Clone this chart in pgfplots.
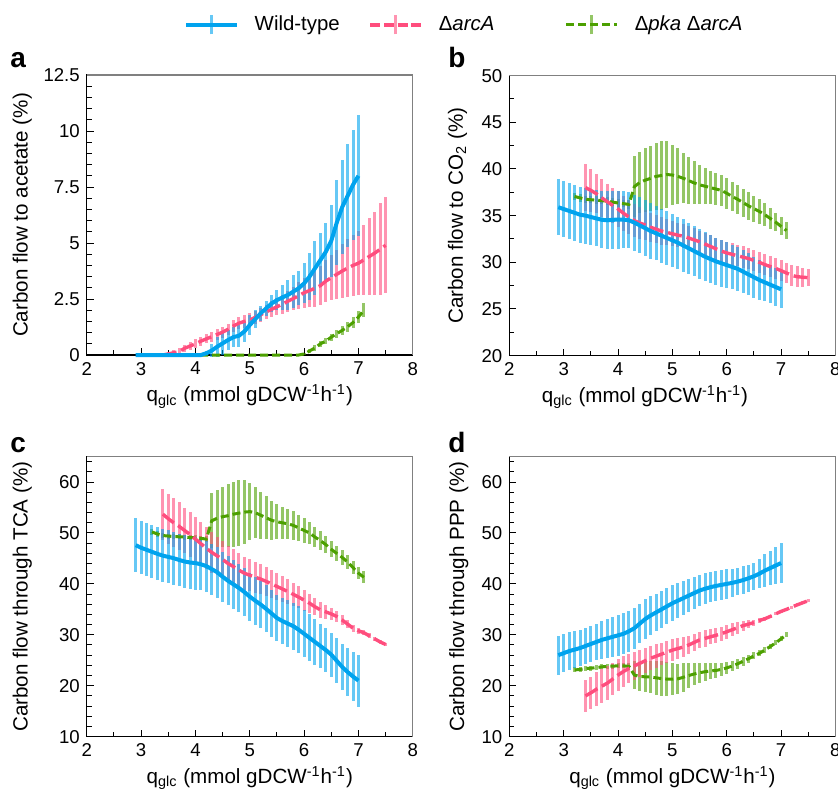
\documentclass[border=0pt]{standalone}
\usepackage{fontspec}
\setmainfont{Liberation Sans}
\usepackage{pgfplots}
\usepackage{pgfplotstable}
\pgfplotsset{compat=1.18}

\definecolor{wt}{RGB}{0,163,238}
\definecolor{arc}{RGB}{255,77,125}
\definecolor{pka}{RGB}{76,160,0}

% ---------- panel a: acetate ----------
\pgfplotstableread{
x y e
2.9 0 0
3.0 0 0
3.1 0 0
3.2 0 0
3.3 0 0
3.4 0 0
3.5 0 0
3.6 0 0
3.7 0 0
3.8 0 0
3.9 0 0
4.0 0 0
4.1 0 0
4.2 0.08 0.1
4.3 0.2 0.3
4.4 0.37 0.45
4.5 0.52 0.5
4.6 0.67 0.45
4.7 0.8 0.45
4.8 0.86 0.5
4.9 1.05 0.45
5.0 1.34 0.45
5.1 1.6 0.4
5.2 1.86 0.35
5.3 2.08 0.35
5.4 2.3 0.4
5.5 2.45 0.45
5.6 2.57 0.55
5.7 2.68 0.65
5.8 2.83 0.75
5.9 2.98 0.75
6.0 3.2 0.9
6.1 3.5 1.05
6.2 3.87 1.2
6.3 4.24 1.2
6.4 4.61 1.3
6.5 5.1 1.6
6.6 5.9 1.9
6.7 6.6 2.1
6.8 7.1 2.3
6.9 7.6 2.45
7.0 8.0 2.7
}\aWT
\pgfplotstableread{
x y e
3.4 0.0 0.05
3.5 0.05 0.1
3.6 0.1 0.12
3.7 0.15 0.15
3.8 0.3 0.15
3.9 0.4 0.18
4.0 0.5 0.2
4.1 0.62 0.2
4.2 0.72 0.2
4.3 0.82 0.22
4.4 0.92 0.25
4.5 1.02 0.25
4.6 1.15 0.25
4.7 1.3 0.27
4.8 1.42 0.28
4.9 1.5 0.3
5.0 1.56 0.3
5.1 1.68 0.3
5.2 1.8 0.32
5.3 1.92 0.33
5.4 2.04 0.35
5.5 2.15 0.38
5.6 2.27 0.42
5.7 2.4 0.47
5.8 2.52 0.53
5.9 2.65 0.6
6.0 2.78 0.68
6.1 2.88 0.75
6.2 2.98 0.82
6.3 3.1 0.88
6.4 3.3 0.95
6.5 3.45 1.0
6.6 3.6 1.1
6.7 3.75 1.2
6.8 3.88 1.28
6.9 4.0 1.35
7.0 4.1 1.42
7.1 4.25 1.55
7.2 4.4 1.7
7.3 4.55 1.85
7.4 4.72 2.05
7.5 4.9 2.15
}\aARC
\pgfplotstableread{
x y e
3.2 0 0
3.3 0 0
3.4 0 0
3.5 0 0
3.6 0 0
3.7 0 0
3.8 0 0
3.9 0 0
4.0 0 0
4.1 0 0
4.2 0 0
4.3 0 0
4.4 0 0
4.5 0 0
4.6 0 0
4.7 0 0
4.8 0 0
4.9 0 0
5.0 0 0
5.1 0 0
5.2 0 0
5.3 0 0
5.4 0 0
5.5 0 0
5.6 0 0
5.7 0 0
5.8 0 0
5.9 0 0
6.0 0.05 0.05
6.1 0.18 0.1
6.2 0.32 0.12
6.3 0.5 0.14
6.4 0.62 0.15
6.5 0.8 0.16
6.6 0.95 0.18
6.7 1.1 0.2
6.8 1.26 0.22
6.9 1.45 0.25
7.0 1.7 0.28
7.1 2.0 0.3
}\aPKA

% ---------- panel b: CO2 ----------
\pgfplotstableread{
x y e
2.9 35.9 3.0
3.0 35.7 3.0
3.1 35.5 3.0
3.2 35.3 3.0
3.3 35.1 3.0
3.4 35.0 3.0
3.5 34.85 3.0
3.6 34.7 3.0
3.7 34.55 3.05
3.8 34.5 3.1
3.9 34.55 3.1
4.0 34.57 3.1
4.1 34.57 3.05
4.2 34.5 3.0
4.3 34.25 3.0
4.4 33.95 3.0
4.5 33.65 3.0
4.6 33.35 2.95
4.7 33.1 2.9
4.8 32.85 2.9
4.9 32.6 2.9
5.0 32.35 2.85
5.1 32.1 2.8
5.2 31.8 2.8
5.3 31.5 2.75
5.4 31.2 2.7
5.5 30.9 2.7
5.6 30.6 2.65
5.7 30.35 2.6
5.8 30.1 2.55
5.9 29.9 2.5
6.0 29.7 2.5
6.1 29.5 2.4
6.2 29.3 2.35
6.3 29.0 2.3
6.4 28.7 2.25
6.5 28.4 2.2
6.6 28.1 2.1
6.7 27.85 2.05
6.8 27.6 2.0
6.9 27.35 2.0
7.0 27.1 2.0
}\bWT
\pgfplotstableread{
x y e
3.4 38.0 2.5
3.5 37.7 2.3
3.6 37.35 2.1
3.7 36.9 2.0
3.8 36.5 1.9
3.9 36.1 1.9
4.0 35.7 1.9
4.1 35.25 1.85
4.2 34.85 1.8
4.3 34.45 1.75
4.4 34.2 1.7
4.5 34.0 1.6
4.6 33.75 1.55
4.7 33.55 1.5
4.8 33.35 1.45
4.9 33.2 1.4
5.0 33.05 1.35
5.1 32.9 1.3
5.2 32.8 1.3
5.3 32.6 1.25
5.4 32.4 1.25
5.5 32.2 1.2
5.6 31.95 1.2
5.7 31.7 1.2
5.8 31.45 1.2
5.9 31.2 1.2
6.0 31.0 1.2
6.1 30.85 1.2
6.2 30.7 1.15
6.3 30.55 1.15
6.4 30.4 1.15
6.5 30.2 1.15
6.6 30.0 1.1
6.7 29.75 1.1
6.8 29.55 1.1
6.9 29.35 1.1
7.0 29.1 1.1
7.1 28.85 1.1
7.2 28.6 1.15
7.3 28.45 1.1
7.4 28.4 1.0
7.5 28.35 0.9
}\bARC
\pgfplotstableread{
x y e
3.2 37.05 0.4
3.3 36.9 0.4
3.4 36.75 0.4
3.5 36.7 0.4
3.6 36.65 0.4
3.7 36.6 0.4
3.8 36.55 0.4
3.9 36.45 0.4
4.0 36.35 0.4
4.1 36.28 0.4
4.2 36.2 0.5
4.3 38.1 3.3
4.4 38.55 3.3
4.5 38.8 3.4
4.6 39.0 3.5
4.7 39.2 3.55
4.8 39.3 3.65
4.9 39.4 3.55
5.0 39.35 3.2
5.1 39.2 3.0
5.2 39.0 2.7
5.3 38.75 2.5
5.4 38.5 2.3
5.5 38.3 2.1
5.6 38.15 1.9
5.7 38.0 1.8
5.8 37.85 1.7
5.9 37.7 1.65
6.0 37.4 1.65
6.1 37.05 1.6
6.2 36.75 1.55
6.3 36.4 1.5
6.4 36.05 1.5
6.5 35.75 1.4
6.6 35.45 1.3
6.7 35.1 1.2
6.8 34.7 1.1
6.9 34.3 1.0
7.0 33.85 0.95
7.1 33.4 0.9
}\bPKA

% ---------- panel c: TCA ----------
\pgfplotstableread{
x y e
2.9 47.6 5.3
3.0 47.1 5.2
3.1 46.7 5.2
3.2 46.3 5.2
3.3 45.9 5.2
3.4 45.55 5.2
3.5 45.3 5.2
3.6 45.05 5.2
3.7 44.7 5.2
3.8 44.4 5.2
3.9 44.2 5.2
4.0 44.1 5.2
4.1 43.85 5.1
4.2 43.5 5.0
4.3 42.9 5.0
4.4 42.3 5.0
4.5 41.4 4.9
4.6 40.6 4.8
4.7 39.9 4.8
4.8 39.2 4.8
4.9 38.4 4.75
5.0 37.5 4.7
5.1 36.7 4.7
5.2 35.95 4.6
5.3 35.1 4.6
5.4 34.2 4.6
5.5 33.3 4.6
5.6 32.7 4.6
5.7 32.2 4.6
5.8 31.7 4.6
5.9 31.0 4.6
6.0 30.2 4.6
6.1 29.4 4.6
6.2 28.6 4.5
6.3 27.8 4.4
6.4 27.0 4.3
6.5 26.1 4.3
6.6 24.9 4.4
6.7 23.7 4.5
6.8 22.7 4.7
6.9 21.8 4.9
7.0 21.0 5.1
}\cWT
\pgfplotstableread{
x y e
3.4 53.7 5.0
3.5 52.8 4.9
3.6 52.0 4.8
3.7 51.3 4.7
3.8 50.5 4.5
3.9 49.7 4.4
4.0 48.8 4.3
4.1 47.9 4.2
4.2 47.0 4.1
4.3 46.2 4.0
4.4 45.5 3.8
4.5 44.8 3.6
4.6 44.0 3.5
4.7 43.4 3.4
4.8 42.7 3.3
4.9 42.1 3.2
5.0 41.7 3.1
5.1 41.3 3.0
5.2 40.95 2.9
5.3 40.5 2.8
5.4 40.0 2.7
5.5 39.5 2.6
5.6 39.0 2.5
5.7 38.5 2.4
5.8 37.95 2.3
5.9 37.4 2.2
6.0 36.8 2.1
6.1 36.2 1.9
6.2 35.5 1.7
6.3 34.9 1.5
6.4 34.5 1.3
6.5 34.1 1.1
6.6 33.6 1.0
6.7 32.9 0.9
6.8 32.1 0.8
6.9 31.3 0.7
7.0 30.8 0.6
7.1 30.4 0.5
7.2 29.8 0.5
7.3 29.2 0.4
7.4 28.6 0.4
7.5 28.1 0.3
}\cARC
\pgfplotstableread{
x y e
3.2 50.2 0.5
3.3 49.8 0.5
3.4 49.5 0.5
3.5 49.4 0.5
3.6 49.3 0.5
3.7 49.25 0.5
3.8 49.2 0.5
3.9 49.1 0.5
4.0 49.05 0.5
4.1 48.95 0.5
4.2 48.8 0.6
4.3 52.4 5.4
4.4 52.9 5.6
4.5 53.2 5.9
4.6 53.4 6.2
4.7 53.7 6.4
4.8 53.9 6.5
4.9 54.1 6.3
5.0 54.2 5.6
5.1 54.0 5.0
5.2 53.5 4.6
5.3 53.0 4.2
5.4 52.5 3.8
5.5 52.2 3.4
5.6 52.0 3.2
5.7 51.8 3.0
5.8 51.5 2.8
5.9 51.0 2.6
6.0 50.5 2.4
6.1 50.0 2.2
6.2 49.2 2.0
6.3 48.5 1.8
6.4 47.7 1.7
6.5 46.8 1.6
6.6 46.0 1.5
6.7 45.2 1.4
6.8 44.3 1.3
6.9 43.2 1.25
7.0 42.1 1.2
7.1 41.3 1.2
}\cPKA

% ---------- panel d: PPP ----------
\pgfplotstableread{
x y e
2.9 26.0 3.8
3.0 26.4 3.8
3.1 26.8 3.7
3.2 27.1 3.7
3.3 27.4 3.6
3.4 27.8 3.6
3.5 28.2 3.6
3.6 28.6 3.6
3.7 29.0 3.7
3.8 29.3 3.8
3.9 29.6 3.9
4.0 29.9 4.0
4.1 30.2 4.0
4.2 30.7 4.0
4.3 31.3 4.0
4.4 32.2 3.9
4.5 33.1 3.9
4.6 33.8 3.8
4.7 34.4 3.7
4.8 35.0 3.6
4.9 35.6 3.5
5.0 36.2 3.5
5.1 36.7 3.4
5.2 37.2 3.3
5.3 37.7 3.2
5.4 38.2 3.1
5.5 38.7 3.0
5.6 39.05 3.0
5.7 39.35 3.0
5.8 39.6 2.9
5.9 39.8 2.9
6.0 40.0 2.9
6.1 40.2 2.8
6.2 40.45 2.7
6.3 40.75 2.7
6.4 41.1 2.7
6.5 41.5 2.7
6.6 42.0 2.9
6.7 42.6 3.2
6.8 43.1 3.4
6.9 43.6 3.7
7.0 44.1 3.9
}\dWT
\pgfplotstableread{
x y e
3.4 18.0 3.1
3.5 18.6 3.2
3.6 19.3 3.3
3.7 19.9 3.3
3.8 20.5 3.3
3.9 21.3 3.2
4.0 22.1 3.1
4.1 22.8 3.0
4.2 23.4 2.9
4.3 23.9 2.8
4.4 24.4 2.6
4.5 24.9 2.5
4.6 25.4 2.4
4.7 25.8 2.3
4.8 26.2 2.2
4.9 26.6 2.2
5.0 27.0 2.1
5.1 27.3 2.0
5.2 27.6 1.9
5.3 28.0 1.8
5.4 28.5 1.7
5.5 29.0 1.6
5.6 29.3 1.6
5.7 29.6 1.5
5.8 29.9 1.5
5.9 30.2 1.4
6.0 30.6 1.4
6.1 31.0 1.3
6.2 31.4 1.2
6.3 31.8 1.0
6.4 32.1 0.8
6.5 32.4 0.6
6.6 32.8 0.5
6.7 33.15 0.4
6.8 33.6 0.35
6.9 34.1 0.3
7.0 34.6 0.3
7.1 35.0 0.3
7.2 35.45 0.3
7.3 35.9 0.3
7.4 36.3 0.3
7.5 36.7 0.3
}\dARC
\pgfplotstableread{
x y e
3.2 23.1 0.5
3.3 23.2 0.5
3.4 23.35 0.5
3.5 23.45 0.5
3.6 23.55 0.5
3.7 23.7 0.5
3.8 23.8 0.5
3.9 23.85 0.5
4.0 23.9 0.5
4.1 23.9 0.5
4.2 23.8 0.6
4.3 22.1 2.7
4.4 21.8 2.9
4.5 21.75 3.0
4.6 21.7 3.2
4.7 21.55 3.3
4.8 21.4 3.4
4.9 21.3 3.35
5.0 21.3 3.2
5.1 21.35 3.0
5.2 21.65 2.8
5.3 22.0 2.5
5.4 22.3 2.2
5.5 22.55 2.0
5.6 22.75 1.8
5.7 22.9 1.6
5.8 23.0 1.45
5.9 23.2 1.3
6.0 23.5 1.2
6.1 23.85 1.05
6.2 24.3 0.95
6.3 24.8 0.85
6.4 25.3 0.75
6.5 25.85 0.7
6.6 26.35 0.6
6.7 27.0 0.55
6.8 27.7 0.5
6.9 28.4 0.5
7.0 29.2 0.5
7.1 30.0 0.5
}\dPKA

\pgfplotsset{
  panel/.style={
    scale only axis, width=163pt, height=140pt,
    xmin=2, xmax=8, xtick={2,...,8}, minor xtick={2.5,3.5,...,7.5},
    tick pos=left, tick align=inside,
    major tick length=3.5pt, minor tick length=2.5pt,
    tick style={black, line width=0.5pt},
    axis line style={black, line width=0.6pt},
    tick label style={font=\fontsize{9.3}{11}\selectfont},
    label style={font=\fontsize{10.3}{12}\selectfont},
    /pgf/number format/assume math mode=true,
    xlabel={q\textsubscript{glc} (mmol gDCW\textsuperscript{-1}h\textsuperscript{-1})},
    xlabel style={at={(axis description cs:0.5,-0.148)}, anchor=center},
    clip=false,
    after end axis/.code={\draw[black!50, line width=0.6pt] (rel axis cs:0,1) -- (rel axis cs:1,1) -- (rel axis cs:1,0);},
  },
  ebars/.style={draw=none, forget plot, error bars/.cd, y dir=both, y explicit,
    error mark=none, error bar style={solid, line width=1.5pt, draw=#1, draw opacity=0.6}},
  wtline/.style={wt, line width=2pt, forget plot},
  arcline/.style={arc, line width=1.7pt, dash pattern=on 7pt off 2.5pt, forget plot},
  pkaline/.style={pka, line width=1.5pt, dash pattern=on 4pt off 2pt, forget plot},
}

\newcommand{\panelplots}[3]{%
  \addplot[ebars=pka] table[x=x, y=y, y error=e]{#3};
  \addplot[ebars=arc] table[x=x, y=y, y error=e]{#2};
  \addplot[ebars=wt] table[x=x, y=y, y error=e]{#1};
  \addplot[pkaline] table[x=x, y=y]{#3};
  \addplot[arcline] table[x=x, y=y]{#2};
  \addplot[wtline] table[x=x, y=y]{#1};
}

\begin{document}
\begin{tikzpicture}
\useasboundingbox (0pt,0pt) rectangle (419pt,-397pt);

\begin{axis}[panel, at={(43.4pt,-177.5pt)}, anchor=south west,
  ymin=0, ymax=12.5, ytick={0,2.5,...,12.5}, minor ytick={0,0.5,...,12.5},
  ylabel={Carbon flow to acetate (\%)},
  ylabel style={at={(axis description cs:-0.198,0.5)}, anchor=center},
  legend columns=3,
  legend style={at={(axis description cs:0.298,1.179)}, anchor=west, draw=none, fill=none,
    inner sep=0pt, font=\fontsize{10.2}{12}\selectfont},
]
\panelplots{\aWT}{\aARC}{\aPKA}
\addlegendimage{legend image code/.code={
  \draw[wt, draw opacity=0.6, line width=1.5pt] (12.75pt,-4.75pt) -- (12.75pt,4.75pt);
  \draw[wt, line width=2pt] (0pt,0pt) -- (25.5pt,0pt);
  \path (32pt,0pt);}}
\addlegendentry{\makebox[55pt][l]{Wild-type}}
\addlegendimage{legend image code/.code={
  \draw[arc, draw opacity=0.6, line width=1.5pt] (12.75pt,-4.75pt) -- (12.75pt,4.75pt);
  \draw[arc, line width=1.7pt, dash pattern=on 5pt off 1.8pt] (0pt,0pt) -- (25.5pt,0pt);
  \path (32pt,0pt);}}
\addlegendentry{\makebox[61pt][l]{Δ\textit{arcA}}}
\addlegendimage{legend image code/.code={
  \draw[pka, draw opacity=0.6, line width=1.5pt] (12.75pt,-4.75pt) -- (12.75pt,4.75pt);
  \draw[pka, line width=1.5pt, dash pattern=on 4pt off 2pt] (0pt,0pt) -- (25.5pt,0pt);
  \path (32pt,0pt);}}
\addlegendentry{Δ\textit{pka} Δ\textit{arcA}}
\end{axis}

\begin{axis}[panel, at={(254.7pt,-177.8pt)}, anchor=south west,
  ymin=20, ymax=50, ytick={20,25,...,50}, minor ytick={20,22.5,...,50},
  ylabel={Carbon flow to CO\textsubscript{2} (\%)},
  ylabel style={at={(axis description cs:-0.159,0.5)}, anchor=center},
  xlabel style={at={(axis description cs:0.416,-0.148)}, anchor=center},
]
\panelplots{\bWT}{\bARC}{\bPKA}
\end{axis}

\begin{axis}[panel, at={(43.4pt,-368.3pt)}, anchor=south west,
  ymin=10, ymax=65, ytick={10,20,...,60}, minor ytick={10,12,...,64},
  ylabel={Carbon flow through TCA (\%)},
  ylabel style={at={(axis description cs:-0.198,0.5)}, anchor=center},
]
\panelplots{\cWT}{\cARC}{\cPKA}
\end{axis}

\begin{axis}[panel, at={(254.7pt,-368.3pt)}, anchor=south west,
  ymin=10, ymax=65, ytick={10,20,...,60}, minor ytick={10,12,...,64},
  ylabel={Carbon flow through PPP (\%)},
  ylabel style={at={(axis description cs:-0.155,0.5)}, anchor=center},
]
\panelplots{\dWT}{\dARC}{\dPKA}
\end{axis}

\node[font=\bfseries\fontsize{14}{14}\selectfont, anchor=base west, inner sep=0pt] at (5pt,-33.5pt) {a};
\node[font=\bfseries\fontsize{14}{14}\selectfont, anchor=base west, inner sep=0pt] at (224pt,-33.5pt) {b};
\node[font=\bfseries\fontsize{14}{14}\selectfont, anchor=base west, inner sep=0pt] at (5pt,-226pt) {c};
\node[font=\bfseries\fontsize{14}{14}\selectfont, anchor=base west, inner sep=0pt] at (224pt,-226pt) {d};
\end{tikzpicture}
\end{document}
